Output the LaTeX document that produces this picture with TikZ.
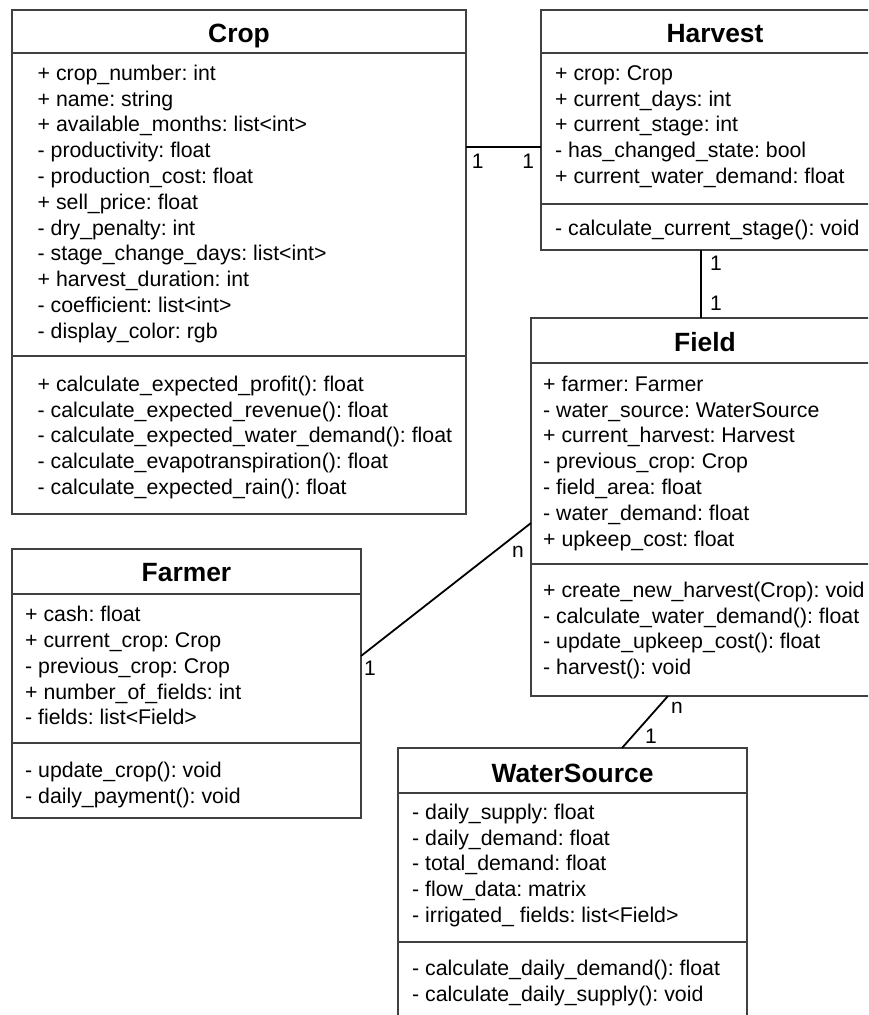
\documentclass[tikz,border=0pt]{standalone}
\usepackage{fontspec}
\setmainfont{Liberation Sans}
\usetikzlibrary{calc}
\frenchspacing
\tikzset{
  box/.style={draw=black!75, line width=1.2pt, rectangle, inner sep=0pt, outer sep=0pt, anchor=north west},
  sepline/.style={draw=black!75, line width=1.2pt},
  body/.style={anchor=north west, inner sep=0pt, align=left, font=\fontsize{21.3}{25.8}\selectfont\frenchspacing},
  ttl/.style={anchor=base, inner sep=0pt, font=\fontsize{26.4}{30}\selectfont\bfseries},
  lbl/.style={anchor=base, inner sep=0pt, font=\fontsize{21}{25}\selectfont},
  conn/.style={draw=black, line width=1.8pt},
}
\begin{document}
\begin{tikzpicture}[x=1pt,y=-1pt]
\useasboundingbox (0,0) rectangle (868,1015);
\clip (0,0) rectangle (868,1015);
\fill[white] (0,0) rectangle (868,1015);

% ---------- Crop ----------
\node[box, minimum width=454pt, minimum height=504pt] (crop) at (12,10) {};
\draw[sepline] ($(crop.north west)+(0,43)$) -- ($(crop.north east)+(0,43)$);
\draw[sepline] ($(crop.north west)+(0,346)$) -- ($(crop.north east)+(0,346)$);
\node[ttl] (cropT) at (239,42) {Crop};
\node[body] (cropA) at (37.5,61.94) {\strut + crop\_number: int\\
+ name: string\\
+ available\_months: list<int>\\
- productivity: float\\
- production\_cost: float\\
+ sell\_price: float\\
- dry\_penalty: int\\
- stage\_change\_days: list<int>\\
+ harvest\_duration: int\\
- coefficient: list<int>\\
- display\_color: rgb};
\node[body] (cropM) at (37.5,372.94) {\strut + calculate\_expected\_profit(): float\\
- calculate\_expected\_revenue(): float\\
- calculate\_expected\_water\_demand(): float\\
- calculate\_evapotranspiration(): float\\
- calculate\_expected\_rain(): float};

% ---------- Harvest ----------
\node[box, minimum width=348pt, minimum height=240pt] (harvest) at (541,10) {};
\draw[sepline] ($(harvest.north west)+(0,43)$) -- ($(harvest.north east)+(0,43)$);
\draw[sepline] ($(harvest.north west)+(0,194)$) -- ($(harvest.north east)+(0,194)$);
\node[ttl] (harvestT) at (715,42) {Harvest};
\node[body] (harvestA) at (555,61.94) {\strut + crop: Crop\\
+ current\_days: int\\
+ current\_stage: int\\
- has\_changed\_state: bool\\
+ current\_water\_demand: float};
\node[body] (harvestM) at (555,216.94) {\strut - calculate\_current\_stage(): void};

% ---------- Field ----------
\node[box, minimum width=350pt, minimum height=378pt] (field) at (531,318) {};
\draw[sepline] ($(field.north west)+(0,45)$) -- ($(field.north east)+(0,45)$);
\draw[sepline] ($(field.north west)+(0,246)$) -- ($(field.north east)+(0,246)$);
\node[ttl] (fieldT) at (705,351) {Field};
\node[body] (fieldA) at (543,372.94) {\strut + farmer: Farmer\\
- water\_source: WaterSource\\
+ current\_harvest: Harvest\\
- previous\_crop: Crop\\
- field\_area: float\\
- water\_demand: float\\
+ upkeep\_cost: float};
\node[body] (fieldM) at (543,578.94) {\strut + create\_new\_harvest(Crop): void\\
- calculate\_water\_demand(): float\\
- update\_upkeep\_cost(): float\\
- harvest(): void};

% ---------- Farmer ----------
\node[box, minimum width=349pt, minimum height=269pt] (farmer) at (12,549) {};
\draw[sepline] ($(farmer.north west)+(0,45)$) -- ($(farmer.north east)+(0,45)$);
\draw[sepline] ($(farmer.north west)+(0,194)$) -- ($(farmer.north east)+(0,194)$);
\node[ttl] (farmerT) at (186.5,581) {Farmer};
\node[body] (farmerA) at (25,603.44) {\strut + cash: float\\
+ current\_crop: Crop\\
- previous\_crop: Crop\\
+ number\_of\_fields: int\\
- fields: list<Field>};
\node[body] (farmerM) at (25,758.94) {\strut - update\_crop(): void\\
- daily\_payment(): void};

% ---------- WaterSource ----------
\node[box, minimum width=349pt, minimum height=300pt] (water) at (398,748) {};
\draw[sepline] ($(water.north west)+(0,45)$) -- ($(water.north east)+(0,45)$);
\draw[sepline] ($(water.north west)+(0,194)$) -- ($(water.north east)+(0,194)$);
\node[ttl] (waterT) at (572.5,782) {WaterSource};
\node[body] (waterA) at (412,800.94) {\strut - daily\_supply: float\\
- daily\_demand: float\\
- total\_demand: float\\
- flow\_data: matrix\\
- irrigated\_ fields: list<Field>};
\node[body] (waterM) at (412,956.94) {\strut - calculate\_daily\_demand(): float\\
- calculate\_daily\_supply(): void};

% ---------- connectors ----------
\coordinate (ch) at (0,147);
\draw[conn] (crop.east |- ch) -- (harvest.west |- ch);
\node[lbl] (l1) at (477.7,168) {1};
\node[lbl] (l2) at (528.3,168) {1};

\coordinate (hf) at (701,0);
\draw[conn] (harvest.south -| hf) -- (field.north -| hf);
\node[lbl] (l3) at (716,270) {1};
\node[lbl] (l4) at (716,310) {1};

\coordinate (ff) at (0,523);
\coordinate (fa) at (0,656);
\draw[conn] (field.west |- ff) -- (farmer.east |- fa);
\node[lbl] (l5) at (518,557) {n};
\node[lbl] (l6) at (370,675) {1};

\coordinate (fw1) at (668,0);
\coordinate (fw2) at (622,0);
\draw[conn] (field.south -| fw1) -- (water.north -| fw2);
\node[lbl] (l7) at (677,713) {n};
\node[lbl] (l8) at (651,743) {1};
\end{tikzpicture}
\end{document}
